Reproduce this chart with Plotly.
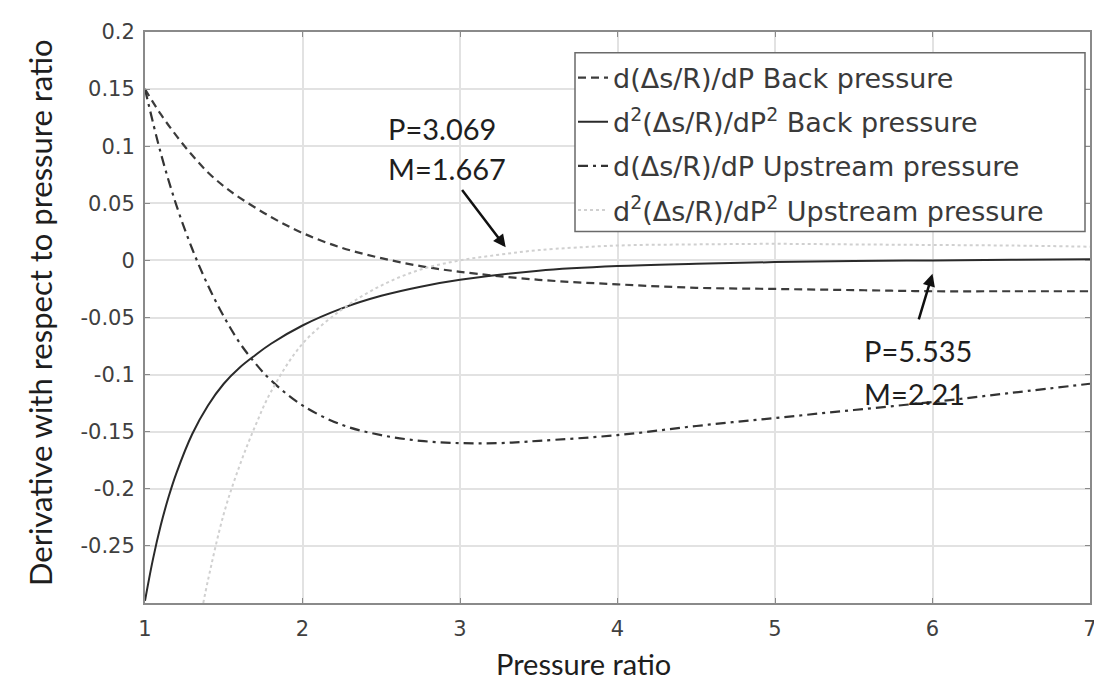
import plotly.graph_objects as go

# d(ds/R)/dP, back pressure
p_back = [1.0, 1.1, 1.2, 1.3, 1.4, 1.5, 1.6, 1.8, 2.0, 2.25, 2.5, 2.75, 3.0, 3.5,
          4.0, 4.5, 5.0, 5.5, 6.0, 6.5, 7.0]
d1_back = [0.150, 0.128, 0.109, 0.092, 0.077, 0.065, 0.055, 0.038, 0.024, 0.011,
           0.002, -0.005, -0.010, -0.017, -0.021, -0.024, -0.025, -0.026, -0.027,
           -0.027, -0.027]

# d2(ds/R)/dP2, back pressure
p_back2 = [1.0, 1.05, 1.1, 1.15, 1.2, 1.3, 1.4, 1.5, 1.6, 1.7, 1.8, 2.0, 2.25, 2.5,
           2.75, 3.0, 3.5, 4.0, 4.5, 5.0, 5.5, 6.0, 6.5, 7.0]
d2_back = [-0.298, -0.262, -0.232, -0.207, -0.186, -0.152, -0.127, -0.108, -0.094,
           -0.083, -0.073, -0.057, -0.042, -0.031, -0.023, -0.017, -0.009, -0.005,
           -0.003, -0.0015, -0.0005, 0.0, 0.0005, 0.001]

# d(ds/R)/dP, upstream pressure
p_up = [1.0, 1.1, 1.2, 1.3, 1.4, 1.5, 1.6, 1.7, 1.8, 2.0, 2.25, 2.5, 2.75, 3.0,
        3.25, 3.5, 4.0, 4.5, 5.0, 5.5, 6.0, 6.5, 7.0]
d1_up = [0.150, 0.094, 0.048, 0.010, -0.022, -0.049, -0.072, -0.090, -0.105,
         -0.127, -0.144, -0.153, -0.158, -0.160, -0.160, -0.158, -0.153, -0.145,
         -0.138, -0.131, -0.124, -0.116, -0.108]

# d2(ds/R)/dP2, upstream pressure
p_up2 = [1.37, 1.4, 1.5, 1.6, 1.7, 1.8, 2.0, 2.25, 2.5, 2.75, 3.0, 3.25, 3.5, 4.0,
         4.5, 5.0, 5.5, 6.0, 6.5, 7.0]
d2_up = [-0.300, -0.280, -0.222, -0.180, -0.145, -0.115, -0.073, -0.043, -0.022,
         -0.008, 0.000, 0.005, 0.009, 0.013, 0.014, 0.0145, 0.014, 0.0135, 0.013,
         0.012]

x_ticks = [1, 2, 3, 4, 5, 6, 7]
y_ticks = [0.2, 0.15, 0.1, 0.05, 0, -0.05, -0.1, -0.15, -0.2, -0.25]
y_labels = ["0.2", "0.15", "0.1", "0.05", "0", "-0.05", "-0.1", "-0.15", "-0.2", "-0.25"]

# layout in pixels
W, H = 1102, 683
L, R, T, B = 137, 20, 14, 88
pw, ph = W - L - R, H - T - B


def px(x):
    return (x - L) / pw


def py(y):
    return (H - B - y) / ph


fig = go.Figure()
fig.add_trace(go.Scatter(x=p_back, y=d1_back, mode="lines", line_shape="spline",
                         name="d(\u0394s/R)/dP Back pressure", legendgroup="a",
                         line=dict(color="#3c3c3c", width=2.2, dash="8px,5px")))
fig.add_trace(go.Scatter(x=p_back2, y=d2_back, mode="lines", line_shape="spline",
                         name="d<sup>2</sup>(\u0394s/R)/dP<sup>2</sup> Back pressure",
                         legendgroup="b", line=dict(color="#2a2a2a", width=2)))
fig.add_trace(go.Scatter(x=p_up, y=d1_up, mode="lines", line_shape="spline",
                         name="d(\u0394s/R)/dP Upstream pressure", legendgroup="c",
                         line=dict(color="#333333", width=2.2, dash="10px,5px,3px,5px")))
fig.add_trace(go.Scatter(x=p_up2, y=d2_up, mode="lines", line_shape="spline",
                         name="d<sup>2</sup>(\u0394s/R)/dP<sup>2</sup> Upstream pressure",
                         legendgroup="d",
                         line=dict(color="#d0d0d0", width=2, dash="dot")))

# Arrows
fig.add_annotation(x=3.29, y=0.0115, ax=3.006, ay=0.063, axref="x", ayref="y",
                   text="", showarrow=True, arrowhead=2, arrowsize=1, arrowwidth=2.5,
                   arrowcolor="#111")
fig.add_annotation(x=6.0, y=-0.0117, ax=5.91, ay=-0.053, axref="x", ayref="y",
                   text="", showarrow=True, arrowhead=2, arrowsize=1, arrowwidth=2.5,
                   arrowcolor="#111")

# Point labels
ann_font = dict(family="Lato", size=29, color="#1e1e1e")
for txt, xx, yy in [("P=3.069", 2.53, 0.1157), ("M=1.667", 2.53, 0.0804),
                    ("P=5.535", 5.55, -0.0788), ("M=2.21", 5.55, -0.1167)]:
    fig.add_annotation(x=xx, y=yy, text=txt, showarrow=False, xanchor="left",
                       yanchor="middle", font=ann_font)

# Axis titles
fig.add_annotation(xref="paper", yref="paper", x=px(575), y=py(657),
                   text="Pressure ratio", showarrow=False, yanchor="middle",
                   font=dict(family="Lato", size=29, color="#1e1e1e"))
fig.add_annotation(xref="paper", yref="paper", x=px(32), y=py(300),
                   text="Derivative with respect to pressure ratio", textangle=-90,
                   showarrow=False, xanchor="center", yanchor="middle",
                   font=dict(family="Lato", size=31, color="#1e1e1e"))

# Legend frame (wider than its text, as in the original)
fig.add_shape(type="rect", xref="paper", yref="paper",
              x0=px(567), x1=px(1077), y0=py(217), y1=py(35),
              line=dict(color="#6a6a6a", width=1.5), fillcolor="white", layer="above")

axis_style = dict(showline=True, linecolor="#8a8a8a", linewidth=2, mirror="ticks",
                  ticks="inside", ticklen=5, tickcolor="#8a8a8a", showgrid=True,
                  gridcolor="#e2e2e2", gridwidth=2, zeroline=False,
                  tickfont=dict(family="DejaVu Sans", size=21, color="#404040"))

fig.update_xaxes(range=[1, 7], tickvals=x_ticks, ticklabelstandoff=6, **axis_style)
fig.update_yaxes(range=[-0.3, 0.2], tickvals=y_ticks, ticktext=y_labels,
                 ticklabelstandoff=4, **axis_style)

fig.update_layout(
    width=W, height=H,
    margin=dict(l=L, r=R, t=T, b=B),
    plot_bgcolor="white", paper_bgcolor="white",
    showlegend=True,
    legend=dict(x=px(565), y=py(36), xanchor="left", yanchor="top",
                bgcolor="rgba(0,0,0,0)", borderwidth=0,
                font=dict(family="DejaVu Sans", size=27, color="#3a3a3a"),
                tracegroupgap=6, itemwidth=30),
)

fig.write_html("out.html")
